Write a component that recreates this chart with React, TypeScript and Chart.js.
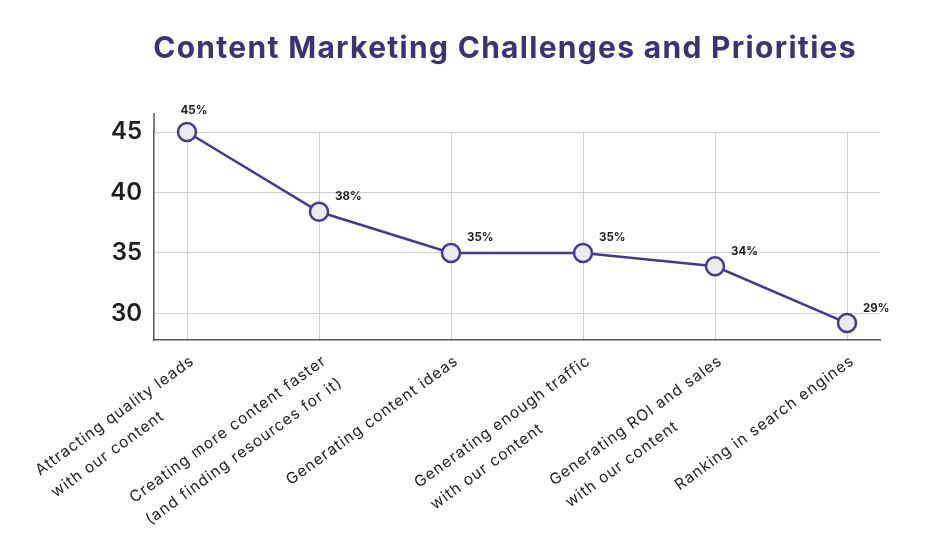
import { useEffect, useRef } from "react";
import { Chart, registerables } from "chart.js";

Chart.register(...registerables);

const FONT = "Inter, 'Noto Sans', 'DejaVu Sans', sans-serif";

const title = "Content Marketing Challenges and Priorities";

const categories: string[][] = [
  ["Attracting quality leads", "with our content"],
  ["Creating more content faster", "(and finding resources for it)"],
  ["Generating content ideas"],
  ["Generating enough traffic", "with our content"],
  ["Generating ROI and sales", "with our content"],
  ["Ranking in search engines"],
];

const values = [45, 38.4, 35, 35, 33.9, 29.2];
const valueLabels = ["45%", "38%", "35%", "35%", "34%", "29%"];
const yTicks = [30, 35, 40, 45];

const LINE_COLOR = "#47388a";
const TITLE_COLOR = "#3d3373";

const overlayPlugin = {
  id: "overlay",
  afterDraw(chart: any) {
    const { ctx, chartArea, scales } = chart;
    const xs = scales.x;
    ctx.save();

    // title
    ctx.font = `700 30px ${FONT}`;
    (ctx as any).letterSpacing = "1.3px";
    ctx.fillStyle = TITLE_COLOR;
    ctx.textAlign = "center";
    ctx.textBaseline = "middle";
    ctx.fillText(title, 505, 49);

    // y axis line extension above the top gridline
    ctx.strokeStyle = "#555";
    ctx.lineWidth = 1.5;
    ctx.beginPath();
    ctx.moveTo(chartArea.left, chartArea.top - 19);
    ctx.lineTo(chartArea.left, chartArea.top);
    ctx.stroke();

    // x category labels (rotated, start-aligned lines, first line ends at tick)
    ctx.font = `400 15.5px ${FONT}`;
    (ctx as any).letterSpacing = "1px";
    ctx.fillStyle = "#1e1e1e";
    ctx.textAlign = "left";
    ctx.textBaseline = "top";
    const ang = (-36 * Math.PI) / 180;
    categories.forEach((lines, i) => {
      const px = xs.getPixelForValue(i);
      const w1 = ctx.measureText(lines[0]).width;
      ctx.save();
      ctx.translate(px + 1, chartArea.bottom + 13);
      ctx.rotate(ang);
      lines.forEach((ln, k) => {
        ctx.fillText(ln, -w1, k * 27);
      });
      ctx.restore();
    });

    // data labels
    (ctx as any).letterSpacing = "0px";
    const meta = chart.getDatasetMeta(0);
    ctx.font = `700 11.5px ${FONT}`;
    ctx.fillStyle = "#1e1e1e";
    ctx.textBaseline = "middle";
    meta.data.forEach((pt: any, i: number) => {
      if (i === 0) {
        ctx.textAlign = "center";
        ctx.fillText(valueLabels[i], pt.x + 7, pt.y - 21);
      } else {
        ctx.textAlign = "left";
        ctx.fillText(valueLabels[i], pt.x + 16, pt.y - 15);
      }
    });

    ctx.restore();
  },
};

export default function App() {
  const ref = useRef<HTMLCanvasElement | null>(null);

  useEffect(() => {
    if (!ref.current) return;
    const chart = new Chart(ref.current, {
      type: "line",
      data: {
        datasets: [
          {
            data: values.map((v, i) => ({ x: i, y: v })),
            borderColor: LINE_COLOR,
            borderWidth: 2.5,
            pointRadius: 9,
            pointBackgroundColor: "#ebeaf0",
            pointBorderColor: LINE_COLOR,
            pointBorderWidth: 2.5,
            tension: 0,
            clip: false as any,
          },
        ],
      },
      options: {
        responsive: false,
        animation: false,
        layout: { padding: { top: 132, right: 66, left: 0, bottom: 0 } },
        plugins: {
          legend: { display: false },
          tooltip: { enabled: false },
          title: { display: false },
        },
        scales: {
          x: {
            type: "linear",
            min: -0.25,
            max: 5.25,
            afterBuildTicks: (s: any) => {
              s.ticks = categories.map((_, i) => ({ value: i }));
            },
            afterFit: (s: any) => {
              s.height = 200;
            },
            ticks: { display: false },
            grid: { color: "#cfcfcf", lineWidth: 1, drawTicks: false },
            border: { color: "#555", width: 1.5 },
          },
          y: {
            min: 27.8,
            max: 45,
            afterBuildTicks: (s: any) => {
              s.ticks = yTicks.map((v) => ({ value: v }));
            },
            afterFit: (s: any) => {
              s.width = 154;
            },
            ticks: {
              font: { family: FONT, size: 24, weight: "600" as any },
              color: "#1e1e1e",
              padding: 12,
            },
            grid: { color: "#cfcfcf", lineWidth: 1, drawTicks: false },
            border: { color: "#555", width: 1.5 },
          },
        },
      },
      plugins: [overlayPlugin],
    });
    return () => chart.destroy();
  }, []);

  return (
    <div style={{ position: "fixed", left: 0, top: 0, width: 946, height: 540, background: "#fff" }}>
      <canvas ref={ref} width={946} height={540} style={{ width: 946, height: 540 }} />
    </div>
  );
}
